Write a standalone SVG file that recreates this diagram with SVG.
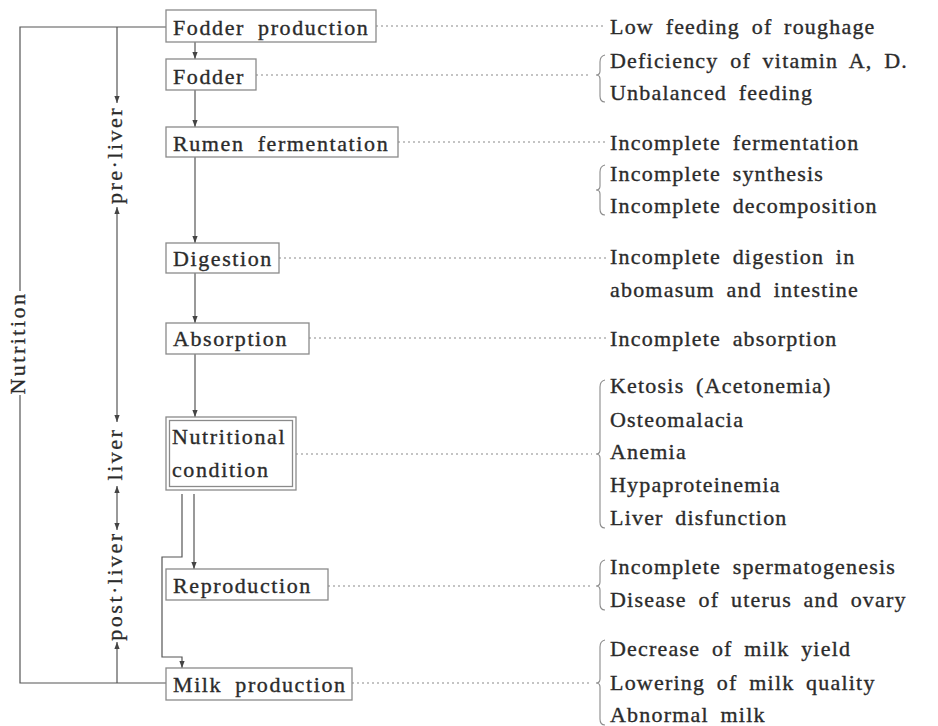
<svg xmlns="http://www.w3.org/2000/svg" width="938" height="726" viewBox="0 0 938 726">
<defs>
<marker id="ah" viewBox="0 0 8 6" refX="8" refY="3" markerWidth="7" markerHeight="6" markerUnits="userSpaceOnUse" orient="auto-start-reverse">
<path d="M0,0 L8,3 L0,6 z" fill="#444"/>
</marker>
<style>
.t{font-family:"Liberation Serif","Times New Roman",serif;font-size:22px;fill:#2b2b2b;stroke:#2b2b2b;stroke-width:0.35;letter-spacing:1.2px;word-spacing:5px}
.b{letter-spacing:1.6px;word-spacing:6px}
.r{font-family:"Liberation Serif","Times New Roman",serif;font-size:22px;fill:#2b2b2b;stroke:#2b2b2b;stroke-width:0.3;letter-spacing:2.5px}
.box{fill:#fff;stroke:#8a8a8a;stroke-width:1.3}
.ln{fill:none;stroke:#555;stroke-width:1.2}
.dot{fill:none;stroke:#8a8a8a;stroke-width:1.1;stroke-dasharray:2 3}
.br{fill:none;stroke:#8a8a8a;stroke-width:1.1}
</style>
</defs>
<rect width="938" height="726" fill="#fff"/>

<g id="connectors">
<polyline class="ln" points="166,27 20,27 20,291"/>
<polyline class="ln" points="20,395 20,683 166,683"/>
<line class="ln" x1="117" y1="27" x2="117" y2="103" marker-end="url(#ah)"/>
<line class="ln" x1="117" y1="207" x2="117" y2="422" marker-start="url(#ah)" marker-end="url(#ah)"/>
<line class="ln" x1="117" y1="486" x2="117" y2="530" marker-start="url(#ah)" marker-end="url(#ah)"/>
<line class="ln" x1="117" y1="683" x2="117" y2="642" marker-end="url(#ah)"/>
<line class="ln" x1="195" y1="42" x2="195" y2="59" marker-end="url(#ah)"/>
<line class="ln" x1="195" y1="90" x2="195" y2="127" marker-end="url(#ah)"/>
<line class="ln" x1="195" y1="157" x2="195" y2="243" marker-end="url(#ah)"/>
<line class="ln" x1="195" y1="273" x2="195" y2="323" marker-end="url(#ah)"/>
<line class="ln" x1="195" y1="354" x2="195" y2="417" marker-end="url(#ah)"/>
<line class="ln" x1="194" y1="494" x2="194" y2="569" marker-end="url(#ah)"/>
<polyline class="ln" points="182,494 182,557 162,557 162,657 182,657 182,668" marker-end="url(#ah)"/>
<line class="dot" x1="376" y1="26" x2="606" y2="26"/>
<line class="dot" x1="256" y1="75" x2="588" y2="75"/>
<line class="dot" x1="398" y1="142" x2="606" y2="142"/>
<line class="dot" x1="279" y1="258" x2="606" y2="258"/>
<line class="dot" x1="309" y1="338" x2="606" y2="338"/>
<line class="dot" x1="296" y1="454" x2="592" y2="454"/>
<line class="dot" x1="328" y1="586" x2="590" y2="586"/>
<line class="dot" x1="352" y1="683" x2="590" y2="683"/>
</g>

<g id="side-labels">
<text class="r" transform="translate(25,343) rotate(-90)" text-anchor="middle">Nutrition</text>
<text class="r" transform="translate(122,155) rotate(-90)" text-anchor="middle">pre·liver</text>
<text class="r" transform="translate(122,454) rotate(-90)" text-anchor="middle">liver</text>
<text class="r" transform="translate(122,586) rotate(-90)" text-anchor="middle">post·liver</text>
</g>

<g id="n1"><rect class="box" x="166" y="10" width="210" height="32"/><text class="t b" x="173" y="35">Fodder production</text></g>
<g id="n2"><rect class="box" x="166" y="59" width="90" height="31"/><text class="t b" x="173" y="84">Fodder</text></g>
<g id="n3"><rect class="box" x="166" y="127" width="232" height="30"/><text class="t b" x="173" y="151">Rumen fermentation</text></g>
<g id="n4"><rect class="box" x="166" y="243" width="113" height="30"/><text class="t b" x="173" y="266">Digestion</text></g>
<g id="n5"><rect class="box" x="166" y="323" width="143" height="31"/><text class="t b" x="173" y="346">Absorption</text></g>
<g id="n6"><rect class="box" x="166" y="417" width="130" height="73"/><rect class="box" x="169.5" y="420.5" width="123" height="66"/><text class="t b" x="172" y="444">Nutritional</text><text class="t b" x="172" y="477">condition</text></g>
<g id="n7"><rect class="box" x="166" y="569" width="162" height="31"/><text class="t b" x="173" y="593">Reproduction</text></g>
<g id="n8"><rect class="box" x="166" y="668" width="186" height="32"/><text class="t b" x="173" y="692">Milk production</text></g>

<g id="braces">
<path class="br" d="M605,55 Q600,56 600,62 L600,71 Q600,75 596,75 Q600,75 600,79 L600,96 Q600,102 605,102"/>
<path class="br" d="M605,165 Q600,166 600,172 L600,186 Q600,190 596,190 Q600,190 600,194 L600,209 Q600,215 605,215"/>
<path class="br" d="M605,380 Q600,381 600,387 L600,450 Q600,454 596,454 Q600,454 600,458 L600,522 Q600,528 605,528"/>
<path class="br" d="M605,560 Q600,561 600,567 L600,582 Q600,586 596,586 Q600,586 600,590 L600,604 Q600,610 605,610"/>
<path class="br" d="M605,640 Q600,641 600,647 L600,679 Q600,683 596,683 Q600,683 600,687 L600,719 Q600,725 605,725"/>
</g>

<g id="effects">
<text class="t" x="610" y="34">Low feeding of roughage</text>
<text class="t" x="610" y="68">Deficiency of vitamin A, D.</text>
<text class="t" x="610" y="100">Unbalanced feeding</text>
<text class="t" x="610" y="150">Incomplete fermentation</text>
<text class="t" x="610" y="181">Incomplete synthesis</text>
<text class="t" x="610" y="213">Incomplete decomposition</text>
<text class="t" x="610" y="264">Incomplete digestion in</text>
<text class="t" x="610" y="297">abomasum and intestine</text>
<text class="t" x="610" y="346">Incomplete absorption</text>
<text class="t" x="610" y="393">Ketosis (Acetonemia)</text>
<text class="t" x="610" y="427">Osteomalacia</text>
<text class="t" x="610" y="459">Anemia</text>
<text class="t" x="610" y="492">Hypaproteinemia</text>
<text class="t" x="610" y="525">Liver disfunction</text>
<text class="t" x="610" y="574">Incomplete spermatogenesis</text>
<text class="t" x="610" y="607">Disease of uterus and ovary</text>
<text class="t" x="610" y="656">Decrease of milk yield</text>
<text class="t" x="610" y="690">Lowering of milk quality</text>
<text class="t" x="610" y="722">Abnormal milk</text>
</g>
</svg>
